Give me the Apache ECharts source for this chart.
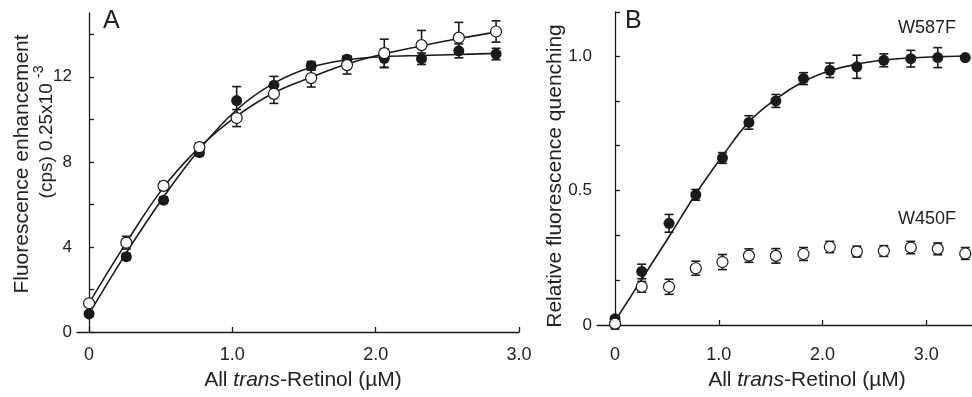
<!DOCTYPE html>
<html>
<head>
<meta charset="utf-8">
<script src="https://cdn.jsdelivr.net/npm/echarts@6/dist/echarts.min.js"></script>
<style>
  html, body { margin: 0; padding: 0; background: #fff; }
  #chart { width: 972px; height: 397px; }
</style>
</head>
<body>
<div id="chart"></div>
<script>
// Panel A: fluorescence enhancement vs all-trans-retinol
const concA = [0, 0.26, 0.52, 0.77, 1.03, 1.29, 1.55, 1.80, 2.06, 2.32, 2.58, 2.84];
const filledA = [0.85, 3.54, 6.2, 8.44, 10.88, 11.6, 12.52, 12.83, 12.87, 12.85, 13.22, 13.07];
const filledAErr = [0.1, 0.15, 0.15, 0.15, 0.66, 0.42, 0.2, 0.15, 0.44, 0.27, 0.33, 0.27];
const openA = [1.35, 4.2, 6.87, 8.69, 10.06, 11.2, 11.94, 12.55, 13.11, 13.49, 13.84, 14.13];
const openAErr = [0.1, 0.3, 0.2, 0.2, 0.4, 0.45, 0.42, 0.42, 0.66, 0.69, 0.72, 0.5];
const fitFilledA = [0.85, 3.72, 6.35, 8.58, 10.45, 11.7, 12.45, 12.8, 12.95, 13.0, 13.05, 13.1];
const fitOpenA = [1.35, 4.2, 6.8, 8.68, 10.15, 11.25, 11.98, 12.6, 13.08, 13.45, 13.8, 14.1];

// Panel B: relative fluorescence quenching
const concB = [0, 0.257, 0.52, 0.778, 1.035, 1.29, 1.55, 1.816, 2.07, 2.33, 2.59, 2.85, 3.11, 3.375];
const w587 = [0.023, 0.199, 0.378, 0.484, 0.621, 0.753, 0.833, 0.916, 0.947, 0.96, 0.984, 0.99, 0.994, 0.994];
const w587Err = [0.01, 0.027, 0.033, 0.02, 0.02, 0.025, 0.024, 0.022, 0.027, 0.043, 0.024, 0.031, 0.037, 0];
const w450 = [0.005, 0.142, 0.142, 0.211, 0.234, 0.258, 0.257, 0.264, 0.29, 0.273, 0.275, 0.288, 0.283, 0.266];
const w450Err = [0.02, 0.02, 0.028, 0.026, 0.028, 0.025, 0.027, 0.024, 0.021, 0.02, 0.02, 0.023, 0.022, 0.022];
const fitW587 = [0.015, 0.17, 0.328, 0.487, 0.628, 0.755, 0.84, 0.905, 0.945, 0.97, 0.985, 0.993, 0.997, 1.0];

const ticksAY = [0, 2, 4, 6, 8, 10, 12, 14];
const labelsAY = [0, 4, 8, 12];
const ticksX = [0, 1, 2, 3];
const ticksBY = [0, 1 / 6, 2 / 6, 0.5, 4 / 6, 5 / 6, 1, 1.1636];
const labelsBY = [0, 0.5, 1];

const INK = "#1a1a1a";
const FONT = "Liberation Sans, Arial, sans-serif";

function pairs(xs, ys) {
  return xs.map((x, i) => [x, ys[i]]);
}

function errRows(xs, ys, errs) {
  return xs.map((x, i) => [x, ys[i] - errs[i], ys[i] + errs[i]]);
}

function errorBarItem(params, api) {
  const x = api.value(0);
  const lo = api.coord([x, api.value(1)]);
  const hi = api.coord([x, api.value(2)]);
  const w = 4.5;
  const style = { stroke: INK, lineWidth: 1.6 };
  return {
    type: "group",
    children: [
      { type: "line", shape: { x1: lo[0], y1: lo[1], x2: hi[0], y2: hi[1] }, style },
      { type: "line", shape: { x1: lo[0] - w, y1: lo[1], x2: lo[0] + w, y2: lo[1] }, style },
      { type: "line", shape: { x1: hi[0] - w, y1: hi[1], x2: hi[0] + w, y2: hi[1] }, style }
    ]
  };
}

function xTickLabel(v) {
  return v === 0 ? "0" : v.toFixed(1);
}

function valueAxisX(gridIndex, min, max, offset) {
  return {
    type: "value",
    gridIndex,
    min,
    max,
    offset,
    splitLine: { show: false },
    axisLine: { lineStyle: { color: INK, width: 1.3 } },
    axisTick: { inside: true, length: 5, customValues: ticksX, lineStyle: { color: INK, width: 1.3 } },
    axisLabel: { customValues: ticksX, formatter: xTickLabel, color: "#222", fontSize: 18, fontFamily: FONT, margin: 5 }
  };
}

function valueAxisY(gridIndex, max, ticks, labels, fmt) {
  return {
    type: "value",
    gridIndex,
    min: 0,
    max,
    splitLine: { show: false },
    axisLine: { lineStyle: { color: INK, width: 1.3 } },
    axisTick: { inside: true, length: 5, customValues: ticks, lineStyle: { color: INK, width: 1.3 } },
    axisLabel: { customValues: labels, formatter: fmt, color: "#222", fontSize: 17, fontFamily: FONT, margin: 5 }
  };
}

const fitLine = (xi, yi, data) => ({
  type: "line",
  xAxisIndex: xi,
  yAxisIndex: yi,
  data,
  smooth: 0.4,
  showSymbol: false,
  silent: true,
  z: 1,
  lineStyle: { color: INK, width: 1.6 }
});

const errSeries = (xi, yi, data) => ({
  type: "custom",
  xAxisIndex: xi,
  yAxisIndex: yi,
  renderItem: errorBarItem,
  data,
  z: 2,
  silent: true
});

const dots = (xi, yi, data, open) => ({
  type: "scatter",
  xAxisIndex: xi,
  yAxisIndex: yi,
  data,
  symbol: "circle",
  symbolSize: 11,
  z: 3,
  itemStyle: open
    ? { color: "#fff", borderColor: INK, borderWidth: 1.2, opacity: 1 }
    : { color: INK, opacity: 1 }
});

const chart = echarts.init(document.getElementById("chart"), null, { renderer: "canvas" });

chart.setOption({
  animation: false,
  backgroundColor: "#fff",
  grid: [
    { left: 77, top: 13, width: 442, height: 319 },
    { left: 597, top: 12, width: 375, height: 313 }
  ],
  xAxis: [valueAxisX(0, -0.084, 3.0, 9), valueAxisX(1, -0.174, 3.44, 16)],
  yAxis: [
    valueAxisY(0, 15, ticksAY, labelsAY, (v) => String(v)),
    valueAxisY(1, 1.1636, ticksBY, labelsBY, (v) => (v === 0 ? "0" : v.toFixed(1)))
  ],
  series: [
    fitLine(0, 0, pairs(concA, fitFilledA)),
    fitLine(0, 0, pairs(concA, fitOpenA)),
    errSeries(0, 0, errRows(concA, filledA, filledAErr)),
    errSeries(0, 0, errRows(concA, openA, openAErr)),
    dots(0, 0, pairs(concA, filledA), false),
    dots(0, 0, pairs(concA, openA), true),
    fitLine(1, 1, pairs(concB, fitW587)),
    errSeries(1, 1, errRows(concB, w587, w587Err)),
    errSeries(1, 1, errRows(concB, w450, w450Err)),
    dots(1, 1, pairs(concB, w587), false),
    dots(1, 1, pairs(concB, w450), true)
  ],
  graphic: [
    { type: "text", left: 103, top: 9, style: { text: "A", font: "25px " + FONT, fill: "#222" } },
    { type: "text", left: 625, top: 9, style: { text: "B", font: "25px " + FONT, fill: "#222" } },
    { type: "text", left: 898, top: 19, style: { text: "W587F", font: "18px " + FONT, fill: "#222" } },
    { type: "text", left: 898, top: 210, style: { text: "W450F", font: "18px " + FONT, fill: "#222" } },
    {
      type: "text", x: 22, y: 164, rotation: Math.PI / 2,
      style: { text: "Fluorescence enhancement", font: "21px " + FONT, fill: "#222", align: "center", verticalAlign: "middle" }
    },
    {
      type: "text", x: 44, y: 132, rotation: Math.PI / 2,
      style: {
        text: "{a|(cps) 0.25x10 }{s|-3}",
        align: "center", verticalAlign: "middle", fill: "#222",
        rich: {
          a: { fontSize: 19, fontFamily: FONT, fill: "#222", verticalAlign: "bottom", lineHeight: 24 },
          s: { fontSize: 14, fontFamily: FONT, fill: "#222", verticalAlign: "top", lineHeight: 24 }
        }
      }
    },
    {
      type: "text", x: 555, y: 176, rotation: Math.PI / 2,
      style: { text: "Relative fluorescence quenching", font: "21px " + FONT, fill: "#222", align: "center", verticalAlign: "middle" }
    },
    {
      type: "text", x: 303, y: 380,
      style: {
        text: "{n|All }{i|trans}{n|-Retinol (µM)}", align: "center", verticalAlign: "middle",
        rich: {
          n: { fontSize: 21, fontFamily: FONT, fill: "#222" },
          i: { fontSize: 21, fontFamily: FONT, fontStyle: "italic", fill: "#222" }
        }
      }
    },
    {
      type: "text", x: 807, y: 380,
      style: {
        text: "{n|All }{i|trans}{n|-Retinol (µM)}", align: "center", verticalAlign: "middle",
        rich: {
          n: { fontSize: 21, fontFamily: FONT, fill: "#222" },
          i: { fontSize: 21, fontFamily: FONT, fontStyle: "italic", fill: "#222" }
        }
      }
    }
  ]
});
</script>
</body>
</html>
